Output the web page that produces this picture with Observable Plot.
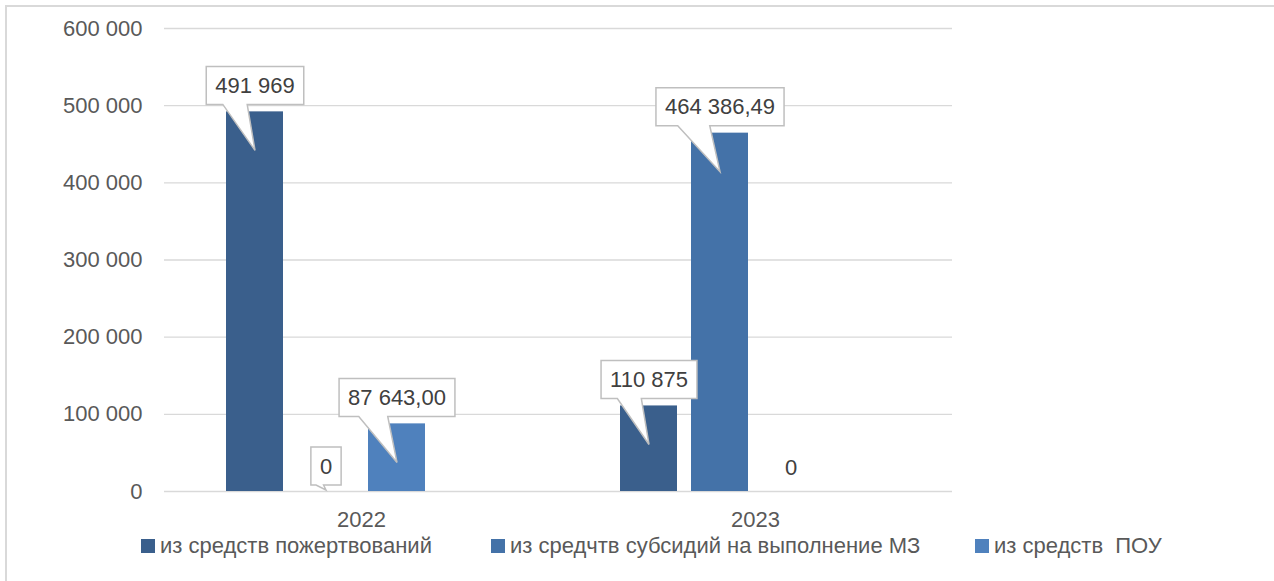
<!DOCTYPE html>
<html>
<head>
<meta charset="utf-8">
<script src="https://cdn.jsdelivr.net/npm/d3@7"></script>
<script src="https://cdn.jsdelivr.net/npm/@observablehq/plot@0.6"></script>
<style>
  html, body { margin: 0; padding: 0; background: #fff; }
  body { width: 1274px; height: 581px; overflow: hidden; position: relative; font-family: "Liberation Sans", Arial, sans-serif; }
  #frame { position: absolute; left: 5px; top: 5px; width: 1300px; height: 600px; border-left: 2px solid #d9d9d9; border-top: 2px solid #d9d9d9; box-sizing: border-box; }
  #chart { position: absolute; left: 0; top: 0; }
  #legend { position: absolute; left: 0; top: 533px; width: 1274px; height: 26px; font-size: 22px; color: #595959; }
  .item { position: absolute; top: 0; display: flex; align-items: center; height: 26px; white-space: pre; }
  .sw { width: 14px; height: 14px; margin-right: 5px; display: inline-block; }
</style>
</head>
<body>
<div id="frame"></div>
<div id="chart"></div>
<div id="legend"></div>
<script>
// ---- data ----
const years = ["2022", "2023"];
const series = ["из средств пожертвований", "из средчтв субсидий на выполнение МЗ", "из средств  ПОУ"];
const values2022 = [491969, 0, 87643];
const values2023 = [110875, 464386.49, 0];
const labels2022 = ["491 969", "0", "87 643,00"];
const labels2023 = ["110 875", "464 386,49", "0"];
const colors = ["#3a5f8c", "#4472a8", "#4f81bd"];
const yTicks = [0, 100000, 200000, 300000, 400000, 500000, 600000];

const rows = [];
years.forEach((yr, yi) => {
  const vals = yi === 0 ? values2022 : values2023;
  const labs = yi === 0 ? labels2022 : labels2023;
  series.forEach((s, si) => rows.push({year: yr, series: s, value: vals[si], label: labs[si], plain: yi === 1 && si === 2}));
});
const spacer = " "; // empty 4th slot in each group (as in the source chart)

const fmt = d3.formatLocale({decimal: ",", thousands: " ", grouping: [3], currency: ["", ""]}).format(",d");

const calloutNZ = rows.filter(d => d.value !== 0);
const calloutZero = rows.filter(d => d.value === 0 && !d.plain);
const plainZero = rows.filter(d => d.plain);

const textStyle = {fontSize: 22, fill: "#404040", fontFamily: "Liberation Sans, Arial, sans-serif"};

const svg = Plot.plot({
  width: 1274,
  height: 533,
  marginTop: 28,
  marginBottom: 42,
  marginLeft: 163,
  marginRight: 322,
  style: {fontFamily: "Liberation Sans, Arial, sans-serif", fontSize: "22px", color: "#595959", background: "transparent", overflow: "visible"},
  fx: {domain: years, padding: 0, label: null, tickSize: 0, tickPadding: 20},
  x: {domain: [...series, spacer], paddingInner: 0.2, paddingOuter: 0.86, axis: null},
  y: {domain: [0, 600000], ticks: yTicks, tickFormat: fmt, tickSize: 0, tickPadding: 22, label: null},
  color: {domain: series, range: colors},
  marks: [
    Plot.ruleY(yTicks, {stroke: "#d9d9d9", strokeWidth: 1.3}),
    Plot.barY(rows, {fx: "year", x: "series", y: "value", fill: "series"}),
    Plot.text(calloutNZ, {fx: "year", x: "series", y: "value", text: "label", dy: -26, ariaDescription: "callout-nz", ...textStyle}),
    Plot.text(calloutZero, {fx: "year", x: "series", y: "value", text: "label", dy: -25, ariaDescription: "callout-zero", ...textStyle}),
    Plot.text(plainZero, {fx: "year", x: "series", y: "value", text: "label", dy: -24, ...textStyle})
  ]
});
document.getElementById("chart").append(svg);

// draw callout boxes around the label texts produced by Plot
function drawCallouts(groupDesc, tipOffset) {
  svg.querySelectorAll(`g[aria-description="${groupDesc}"]`).forEach(g => {
    g.querySelectorAll("text").forEach(t => {
      const parent = t.parentNode;
      const inv = parent.getScreenCTM().inverse();
      const toLocal = (x, y) => { const p = svg.createSVGPoint(); p.x = x; p.y = y; return p.matrixTransform(inv); };
      const r = t.getBoundingClientRect();
      const cx = r.left + r.width / 2, cy = r.top + r.height / 2;
      const w = r.width + 18, h = 38;
      const L = cx - w / 2, R = cx + w / 2, T = cy - h / 2, B = cy + h / 2;
      const tip = [cx, cy + tipOffset];
      const b1 = L + 0.17 * w, b2 = L + 0.42 * w;
      const pts = [[L, T], [R, T], [R, B], [b2, B], tip, [b1, B], [L, B]].map(([x, y]) => toLocal(x, y));
      const path = document.createElementNS("http://www.w3.org/2000/svg", "path");
      path.setAttribute("d", "M" + pts.map(p => `${p.x},${p.y}`).join("L") + "Z");
      path.setAttribute("fill", "#fff");
      path.setAttribute("stroke", "#bfbfbf");
      path.setAttribute("stroke-width", "1.5");
      parent.insertBefore(path, t);
    });
  });
}
drawCallouts("callout-nz", 65);
drawCallouts("callout-zero", 24);

// legend
const legend = document.getElementById("legend");
const lx = [141, 491, 975];
series.forEach((s, i) => {
  const it = document.createElement("div");
  it.className = "item";
  it.style.left = lx[i] + "px";
  const sw = document.createElement("span");
  sw.className = "sw";
  sw.style.background = colors[i];
  it.append(sw, document.createTextNode(s));
  legend.append(it);
});
</script>
</body>
</html>
